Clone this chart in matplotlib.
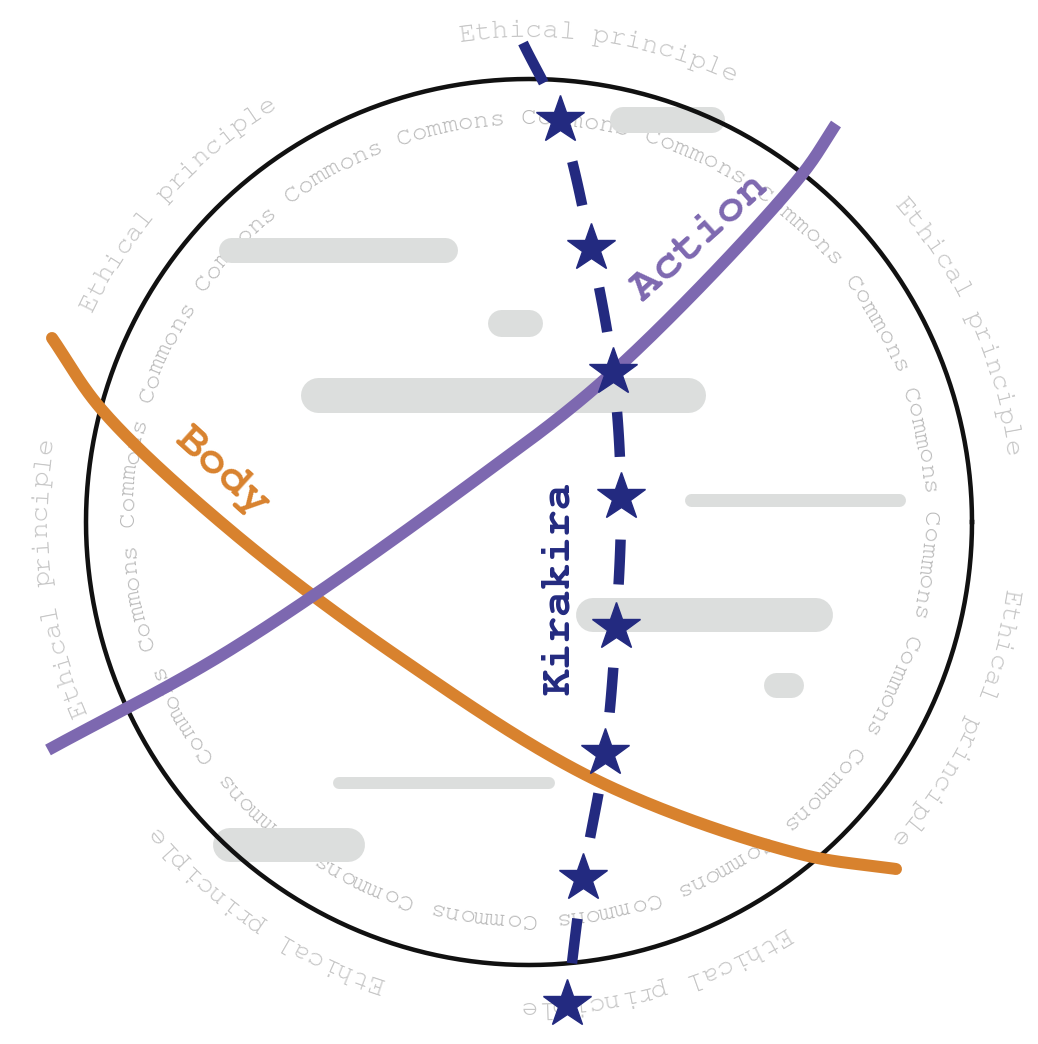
import numpy as np
import warnings
import matplotlib
matplotlib.use("Agg")
import matplotlib.pyplot as plt
from matplotlib import font_manager

warnings.filterwarnings("ignore")

# ---------------- data (pixel coordinates of the diagram) ----------------
circle_center = (529, 522)
circle_radius = 443

ring_center = (528, 519)
commons_word = "Commons "
commons_repeats = 20
commons_step_deg = 2.25
commons_radius = 395

ethical_word = "Ethical principle"
ethical_centers_deg = [8.5, 66, 115, 164.5, 214, 263, 312]
ethical_step_deg = 1.96
ethical_radius = 482

# gray rounded bars
bar_x0 = [218, 487, 300, 610, 684, 576, 763, 333, 213]
bar_x1 = [457, 542, 705, 725, 905, 833, 803, 555, 365]
bar_y = [250, 323, 395, 120, 500, 615, 685, 783, 845]
bar_h = [25, 27, 35, 26, 13, 34, 25, 12, 34]

# curves
action_x = [48, 230, 470, 613, 800, 836]
action_y = [750, 650, 484, 372, 177, 124]
body_x = [52, 102, 230, 400, 600, 800, 896]
body_y = [338, 410, 530, 658, 782, 854, 869]

kira_top = (523, 43)
star_x = [560, 591, 613, 621, 616, 605, 583, 567]
star_y = [120, 248, 372, 497, 627, 753, 878, 1004]

labels = ["Action", "Body", "Kirakira"]

# ---------------- styles ----------------
NAVY = "#232a80"
PURPLE = "#7d68b0"
ORANGE = "#d8822e"
BAR = "#dcdedd"
COMMONS_C = "#b9b9b9"
ETHIC_C = "#c6c6c6"
PT = 0.72  # px -> pt at 100 dpi

available = {f.name for f in font_manager.fontManager.ttflist}
FONT = "Liberation Mono"
for cand in ["Nimbus Mono PS", "Nimbus Mono L", "FreeMono", "Courier New",
             "Courier", "Liberation Mono"]:
    if cand in available:
        FONT = cand
        break

W, H = 1038, 1044
fig = plt.figure(figsize=(W / 100, H / 100), dpi=100)
ax = fig.add_axes([0, 0, 1, 1])
ax.set_xlim(0, W)
ax.set_ylim(H, 0)
ax.axis("off")


def catmull(pts, n=40, alpha=0.5):
    """Centripetal Catmull-Rom spline through the given points."""
    pts = np.asarray(pts, float)
    P = np.vstack([2 * pts[0] - pts[1], pts, 2 * pts[-1] - pts[-2]])
    out = []
    for i in range(1, len(P) - 2):
        p0, p1, p2, p3 = P[i - 1], P[i], P[i + 1], P[i + 2]
        t0 = 0.0
        t1 = t0 + np.linalg.norm(p1 - p0) ** alpha
        t2 = t1 + np.linalg.norm(p2 - p1) ** alpha
        t3 = t2 + np.linalg.norm(p3 - p2) ** alpha
        t = np.linspace(t1, t2, n, endpoint=False)[:, None]
        A1 = (t1 - t) / (t1 - t0) * p0 + (t - t0) / (t1 - t0) * p1
        A2 = (t2 - t) / (t2 - t1) * p1 + (t - t1) / (t2 - t1) * p2
        A3 = (t3 - t) / (t3 - t2) * p2 + (t - t2) / (t3 - t2) * p3
        B1 = (t2 - t) / (t2 - t0) * A1 + (t - t0) / (t2 - t0) * A2
        B2 = (t3 - t) / (t3 - t1) * A2 + (t - t1) / (t3 - t1) * A3
        out.append((t2 - t) / (t2 - t1) * B1 + (t - t1) / (t2 - t1) * B2)
    out.append(P[-2][None, :])
    return np.vstack(out)


# ---------------- ring texts ----------------
cx, cy = ring_center
seq = commons_word * commons_repeats
for i, ch in enumerate(seq):
    if ch == " ":
        continue
    th = np.radians(i * commons_step_deg)
    ax.text(cx + commons_radius * np.sin(th), cy - commons_radius * np.cos(th), ch,
            rotation=-i * commons_step_deg, ha="center", va="baseline",
            rotation_mode="anchor", family=FONT, fontsize=18.8,
            color=COMMONS_C, zorder=1)

n_e = len(ethical_word)
for c in ethical_centers_deg:
    for k, ch in enumerate(ethical_word):
        if ch == " ":
            continue
        d = c + (k - (n_e - 1) / 2) * ethical_step_deg
        th = np.radians(d)
        ax.text(cx + ethical_radius * np.sin(th), cy - ethical_radius * np.cos(th), ch,
                rotation=-d, ha="center", va="baseline", rotation_mode="anchor",
                family=FONT, fontsize=20.2, color=ETHIC_C, zorder=1)

# ---------------- gray bars ----------------
for x0, x1, y, h in zip(bar_x0, bar_x1, bar_y, bar_h):
    ax.plot([x0 + h / 2, x1 - h / 2], [y, y], color=BAR, lw=h * PT,
            solid_capstyle="round", zorder=2)

# ---------------- circle ----------------
tt = np.linspace(0, 2 * np.pi, 721)
ax.plot(circle_center[0] + circle_radius * np.cos(tt),
        circle_center[1] + circle_radius * np.sin(tt),
        color="#111111", lw=4.5 * PT, zorder=3)

# ---------------- body & action curves ----------------
b = catmull(list(zip(body_x, body_y)))
ax.plot(b[:, 0], b[:, 1], color=ORANGE, lw=12 * PT, solid_capstyle="round", zorder=4)
a = catmull(list(zip(action_x, action_y)))
ax.plot(a[:, 0], a[:, 1], color=PURPLE, lw=12 * PT, solid_capstyle="butt", zorder=5)

# ---------------- Kirakira dashed path with stars ----------------
n = 40
nodes = [kira_top] + list(zip(star_x, star_y))
k = catmull(nodes, n)
s = np.concatenate([[0], np.cumsum(np.hypot(np.diff(k[:, 0]), np.diff(k[:, 1])))])
node_s = s[::n]
dash = 45
segs = [(node_s[0], node_s[0] + dash)]
for j in range(1, len(node_s) - 1):
    mid = (node_s[j] + node_s[j + 1]) / 2
    segs.append((mid - dash / 2, mid + dash / 2))
for s0, s1 in segs:
    ss = np.linspace(s0, s1, 30)
    ax.plot(np.interp(ss, s, k[:, 0]), np.interp(ss, s, k[:, 1]), color=NAVY,
            lw=10.5 * PT, solid_capstyle="butt", zorder=6)
ax.plot(star_x, star_y, ls="none", marker="*", ms=36, color=NAVY,
        mec=NAVY, mew=1, zorder=7)

# ---------------- labels ----------------
ax.text(700, 238, labels[0], rotation=42, ha="center", va="center",
        rotation_mode="anchor", family=FONT, fontsize=34, fontweight="bold",
        color=PURPLE, zorder=8)
ax.text(222, 472, labels[1], rotation=-42, ha="center", va="center",
        rotation_mode="anchor", family=FONT, fontsize=34, fontweight="bold",
        color=ORANGE, zorder=8)
ax.text(559, 588, labels[2], rotation=90, ha="center", va="center",
        rotation_mode="anchor", family=FONT, fontsize=32, fontweight="bold",
        color=NAVY, zorder=8)

fig.savefig("out.png", dpi=100, facecolor="white")
